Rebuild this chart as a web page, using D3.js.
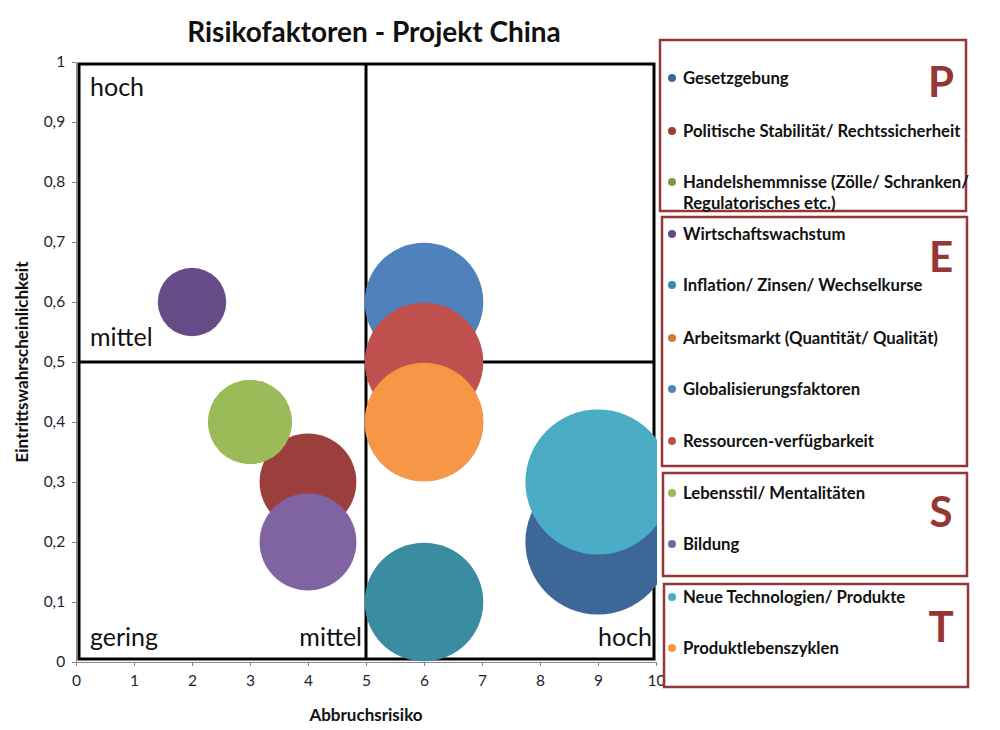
<!DOCTYPE html>
<html>
<head>
<meta charset="utf-8">
<script src="https://cdn.jsdelivr.net/npm/d3@7/dist/d3.min.js"></script>
<style>
  html, body { margin: 0; padding: 0; background: #fff; }
  svg { display: block; font-family: Lato, "Open Sans", sans-serif; }
</style>
</head>
<body>
<svg id="chart" width="1000" height="730"></svg>
<script>
// ---- data ----
const categories = [
  "Gesetzgebung",
  "Politische Stabilität/ Rechtssicherheit",
  "Handelshemmnisse (Zölle/ Schranken/|Regulatorisches etc.)",
  "Wirtschaftswachstum",
  "Inflation/ Zinsen/ Wechselkurse",
  "Arbeitsmarkt (Quantität/ Qualität)",
  "Globalisierungsfaktoren",
  "Ressourcen-verfügbarkeit",
  "Lebensstil/ Mentalitäten",
  "Bildung",
  "Neue Technologien/ Produkte",
  "Produktlebenszyklen"
];
const abbruchsrisiko = [9, 4, 3, 2, 6, 6, 6, 6, 3, 4, 9, 6];
const eintrittswahrscheinlichkeit = [0.2, 0.3, 0.4, 0.6, 0.1, 0.4, 0.6, 0.5, 0.4, 0.2, 0.3, 0.4];
const bubbleSize = [9, 4, 3, 2, 6, 6, 6, 6, 3, 4, 9, 6];
const seriesColors = [
  "#3e6799", "#9b3f3c", "#7e9a48", "#664c87", "#3a8ca1", "#c87b3b",
  "#4f81bd", "#c0504d", "#9bbb59", "#8064a2", "#4bacc6", "#f79646"
];
const groupLetters = ["P", "E", "S", "T"];
const groupSizes = [3, 5, 2, 2];
const xTicks = [0, 1, 2, 3, 4, 5, 6, 7, 8, 9, 10];
const yTicks = [0, 0.1, 0.2, 0.3, 0.4, 0.5, 0.6, 0.7, 0.8, 0.9, 1];
const quadrantLabels = [
  { text: "hoch", x: 0, y: 1, anchor: "start", pos: "below" },
  { text: "mittel", x: 0, y: 0.5, anchor: "start", pos: "above" },
  { text: "gering", x: 0, y: 0, anchor: "start", pos: "above" },
  { text: "mittel", x: 5, y: 0, anchor: "end", pos: "above" },
  { text: "hoch", x: 10, y: 0, anchor: "end", pos: "above" }
];

// ---- layout ----
const svg = d3.select("#chart");
const x = d3.scaleLinear().domain([0, 10]).range([76, 656]);
const y = d3.scaleLinear().domain([0, 1]).range([662, 62]);
const r = d3.scaleSqrt().domain([0, 9]).range([0, 72.6]);

// title
svg.append("text")
  .attr("x", 374).attr("y", 42)
  .attr("text-anchor", "middle")
  .attr("font-size", 28).attr("font-weight", 700).attr("fill", "#111")
  .text("Risikofaktoren - Projekt China");

// axes
const xAxis = svg.append("g").attr("transform", `translate(0,${y(0)})`)
  .call(d3.axisBottom(x).tickValues(xTicks).tickSize(4).tickSizeOuter(0).tickFormat(d3.format("d")));
const yAxis = svg.append("g").attr("transform", `translate(${x(0)},0)`)
  .call(d3.axisLeft(y).tickValues(yTicks).tickSize(4).tickSizeOuter(0)
    .tickFormat(d => d === 0 ? "0" : d === 1 ? "1" : String(d3.format(".1f")(d)).replace(".", ",")));
[xAxis, yAxis].forEach(g => {
  g.select(".domain").attr("stroke", "#868686");
  g.selectAll(".tick line").attr("stroke", "#868686");
  g.selectAll(".tick text").attr("font-size", 15.5).attr("fill", "#1e1e2e")
    .attr("font-family", "Lato, 'Open Sans', sans-serif");
});
xAxis.selectAll(".tick text").attr("dy", "1.1em");
yAxis.selectAll(".tick text").attr("dx", "-0.25em");

// axis titles
svg.append("text")
  .attr("x", 366).attr("y", 721)
  .attr("text-anchor", "middle")
  .attr("font-size", 17).attr("font-weight", 700).attr("fill", "#111")
  .text("Abbruchsrisiko");
svg.append("text")
  .attr("transform", `translate(28,${y(0.5)}) rotate(-90)`)
  .attr("text-anchor", "middle")
  .attr("font-size", 17).attr("font-weight", 700).attr("fill", "#111")
  .text("Eintrittswahrscheinlichkeit");

// quadrant frame
const frame = svg.append("g").attr("stroke", "#000").attr("stroke-width", 3).attr("fill", "none");
frame.append("rect")
  .attr("x", x(0) + 3).attr("y", y(1) + 2)
  .attr("width", x(10) - 2 - (x(0) + 3)).attr("height", y(0) - 3 - (y(1) + 2));
frame.append("line").attr("x1", x(5)).attr("x2", x(5)).attr("y1", y(1) + 2).attr("y2", y(0) - 3);
frame.append("line").attr("x1", x(0) + 3).attr("x2", x(10) - 2).attr("y1", y(0.5)).attr("y2", y(0.5));

// quadrant labels
svg.append("g").selectAll("text").data(quadrantLabels).join("text")
  .attr("x", d => x(d.x) + (d.anchor === "start" ? 14 : -4))
  .attr("y", d => d.pos === "below" ? y(d.y) + 34 : y(d.y) - 16)
  .attr("text-anchor", d => d.anchor)
  .attr("font-size", 25).attr("fill", "#111")
  .text(d => d.text);

// bubbles
svg.append("clipPath").attr("id", "plotclip").append("rect")
  .attr("x", x(0)).attr("y", y(1)).attr("width", x(10) - x(0) + 1).attr("height", y(0) - y(1));
const series = categories.map((c, i) => ({
  name: c, x: abbruchsrisiko[i], y: eintrittswahrscheinlichkeit[i], s: bubbleSize[i], color: seriesColors[i]
}));
svg.append("g").attr("clip-path", "url(#plotclip)")
  .selectAll("circle").data(series).join("circle")
  .attr("cx", d => x(d.x)).attr("cy", d => y(d.y)).attr("r", d => r(d.s))
  .attr("fill", d => d.color);

// legend
const boxColor = "#953735";
const boxes = [
  { x0: 660, y0: 40, x1: 966, y1: 211 },
  { x0: 662, y0: 217, x1: 967, y1: 466 },
  { x0: 663, y0: 473, x1: 967, y1: 576 },
  { x0: 664, y0: 584, x1: 968, y1: 687 }
];
const letterY = [97, 272, 527, 642];
const rowY = [78, 131, 182, 234, 285, 338, 389, 441, 493, 544, 597, 648];
const legend = svg.append("g");
boxes.forEach((b, gi) => {
  legend.append("rect")
    .attr("x", b.x0).attr("y", b.y0).attr("width", b.x1 - b.x0).attr("height", b.y1 - b.y0)
    .attr("fill", "none").attr("stroke", boxColor).attr("stroke-width", 2.5);
  legend.append("text")
    .attr("x", 941).attr("y", letterY[gi]).attr("text-anchor", "middle")
    .attr("font-size", 42).attr("font-weight", 700).attr("fill", boxColor)
    .text(groupLetters[gi]);
});
series.forEach((d, i) => {
  legend.append("circle").attr("cx", 672).attr("cy", rowY[i]).attr("r", 4).attr("fill", d.color);
  const lines = d.name.split("|");
  lines.forEach((ln, li) => {
    legend.append("text")
      .attr("x", 683).attr("y", rowY[i] + 6 + li * 21)
      .attr("font-size", 16.7).attr("font-weight", 700).attr("fill", "#111")
      .text(ln);
  });
});
</script>
</body>
</html>
